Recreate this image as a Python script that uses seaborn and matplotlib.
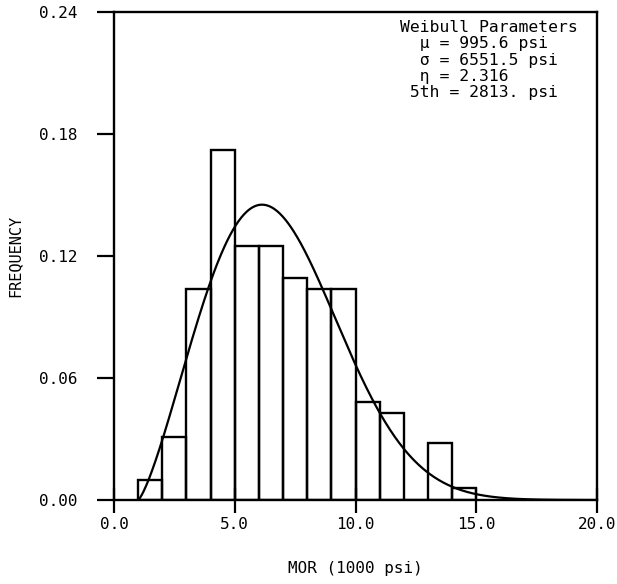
import numpy as np
import pandas as pd
import matplotlib
matplotlib.use("Agg")
import matplotlib.pyplot as plt
import seaborn as sns

bin_left = [1, 2, 3, 4, 5, 6, 7, 8, 9, 10, 11, 12, 13, 14]
freq = [0.010, 0.031, 0.104, 0.172, 0.125, 0.125, 0.109, 0.104, 0.104,
        0.048, 0.043, 0.0, 0.028, 0.006]

# fitted 3-parameter Weibull (from the annotation)
mu_psi = 995.6
sigma_psi = 6551.5
eta = 2.316
p5_psi = 2813.

x_ticks = [0, 5, 10, 15, 20]
x_tick_labels = ["0.0", "5.0", "10.0", "15.0", "20.0"]
y_ticks = [0.0, 0.06, 0.12, 0.18, 0.24]
y_tick_labels = ["0.00", "0.06", "0.12", "0.18", "0.24"]

sns.set_style("ticks")
plt.rcParams['font.family'] = ['DejaVu Sans Mono', 'DejaVu Sans']
plt.rcParams['text.color'] = 'black'
plt.rcParams['axes.labelcolor'] = 'black'
plt.rcParams['xtick.color'] = 'black'
plt.rcParams['ytick.color'] = 'black'

fig = plt.figure(figsize=(6.17, 5.84), dpi=100)
ax = fig.add_axes([0.1848, 0.1438, 0.7828, 0.8356])

hist_df = pd.DataFrame({"mid": np.array(bin_left) + 0.5, "freq": freq})
sns.histplot(data=hist_df, x="mid", weights="freq", binwidth=1,
             binrange=(bin_left[0], bin_left[-1] + 1),
             stat="count", fill=False, color="black", linewidth=1.7, ax=ax)

# Weibull density, per 1000 psi
mu = mu_psi / 1000
s = sigma_psi / 1000
xs = np.linspace(mu, 20, 500)
z = (xs - mu) / s
pdf = eta / s * z ** (eta - 1) * np.exp(-z ** eta)
sns.lineplot(x=xs, y=pdf, color="black", linewidth=1.6, ax=ax)

ax.set_xlim(0, 20)
ax.set_ylim(0, 0.24)
ax.set_xticks(x_ticks)
ax.set_xticklabels(x_tick_labels)
ax.set_yticks(y_ticks)
ax.set_yticklabels(y_tick_labels)
ax.tick_params(axis="x", direction="inout", length=18, width=1.6, labelsize=11.5, pad=3)
ax.tick_params(axis="y", direction="out", length=12, width=1.6, labelsize=11.5, pad=14)
for sp in ax.spines.values():
    sp.set_visible(True)
    sp.set_linewidth(1.7)
    sp.set_color("black")

ax.set_xlabel("MOR (1000 psi)", fontsize=11.5, labelpad=21)
ax.set_ylabel("FREQUENCY", fontsize=11, labelpad=12)

lines = ["Weibull Parameters",
         f"  \u00b5 = {mu_psi} psi",
         f"  \u03c3 = {sigma_psi} psi",
         f"  \u03b7 = {eta}",
         f" 5th = {p5_psi:.0f}. psi"]
for i, t in enumerate(lines):
    fig.text(400 / 617, 1 - (27 + 16.5 * i) / 584, t, fontsize=11.8,
             ha="left", va="center")

fig.savefig("out.png", dpi=100)
